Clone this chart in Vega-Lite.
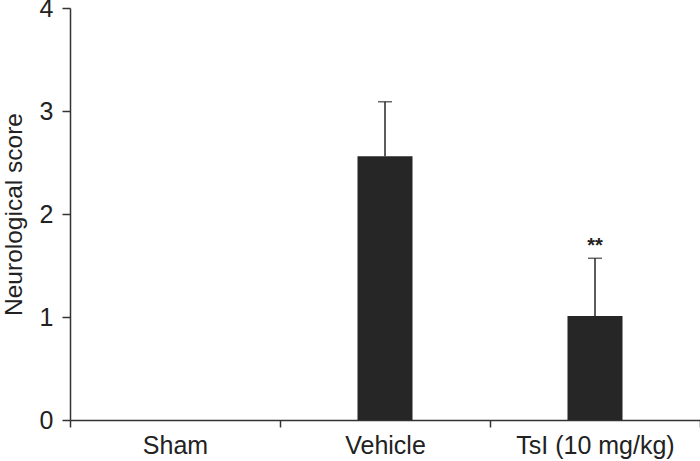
{
  "$schema": "https://vega.github.io/schema/vega-lite/v6.json",
  "width": 630,
  "height": 412,
  "autosize": {"type": "none"},
  "padding": {"left": 70, "top": 8, "right": 0, "bottom": 41},
  "background": "white",
  "config": {
    "view": {"stroke": null},
    "font": "Liberation Sans, sans-serif",
    "axis": {
      "domainColor": "#333333",
      "domainWidth": 1.5,
      "tickColor": "#333333",
      "tickWidth": 1.5,
      "labelColor": "#222222",
      "titleColor": "#222222",
      "labelFont": "Liberation Sans, sans-serif",
      "titleFont": "Liberation Sans, sans-serif",
      "grid": false
    }
  },
  "data": {
    "values": [
      {"group": "Sham", "mean": 0, "upper": 0, "sig": ""},
      {"group": "Vehicle", "mean": 2.56, "upper": 3.09, "sig": ""},
      {"group": "TsI (10 mg/kg)", "mean": 1.01, "upper": 1.57, "sig": "**"}
    ]
  },
  "encoding": {
    "x": {
      "field": "group",
      "type": "nominal",
      "sort": null,
      "scale": {"paddingInner": 0, "paddingOuter": 0},
      "axis": {
        "title": null,
        "labelAngle": 0,
        "labelFontSize": 25,
        "labelPadding": 6,
        "tickSize": 7,
        "tickBand": "extent"
      }
    }
  },
  "layer": [
    {
      "mark": {"type": "bar", "color": "#262626", "width": {"band": 0.262}},
      "encoding": {
        "y": {
          "field": "mean",
          "type": "quantitative",
          "scale": {"domain": [0, 4], "nice": false},
          "axis": {
            "title": "Neurological score",
            "values": [0, 1, 2, 3, 4],
            "format": "d",
            "titleFontSize": 24.5,
            "titleFontWeight": "normal",
            "titlePadding": 13,
            "labelFontSize": 25,
            "labelPadding": 9,
            "tickSize": 8
          }
        }
      }
    },
    {
      "transform": [{"filter": "datum.upper > datum.mean"}],
      "mark": {"type": "rule", "color": "#262626", "strokeWidth": 1.5},
      "encoding": {
        "y": {"field": "mean", "type": "quantitative"},
        "y2": {"field": "upper"}
      }
    },
    {
      "transform": [{"filter": "datum.upper > datum.mean"}],
      "mark": {"type": "tick", "color": "#262626", "thickness": 1.5, "size": 14, "orient": "horizontal"},
      "encoding": {
        "y": {"field": "upper", "type": "quantitative"}
      }
    },
    {
      "mark": {"type": "text", "color": "#222222", "fontSize": 20, "fontWeight": "bold", "dy": -12, "baseline": "middle"},
      "encoding": {
        "y": {"field": "upper", "type": "quantitative"},
        "text": {"field": "sig"}
      }
    }
  ]
}
